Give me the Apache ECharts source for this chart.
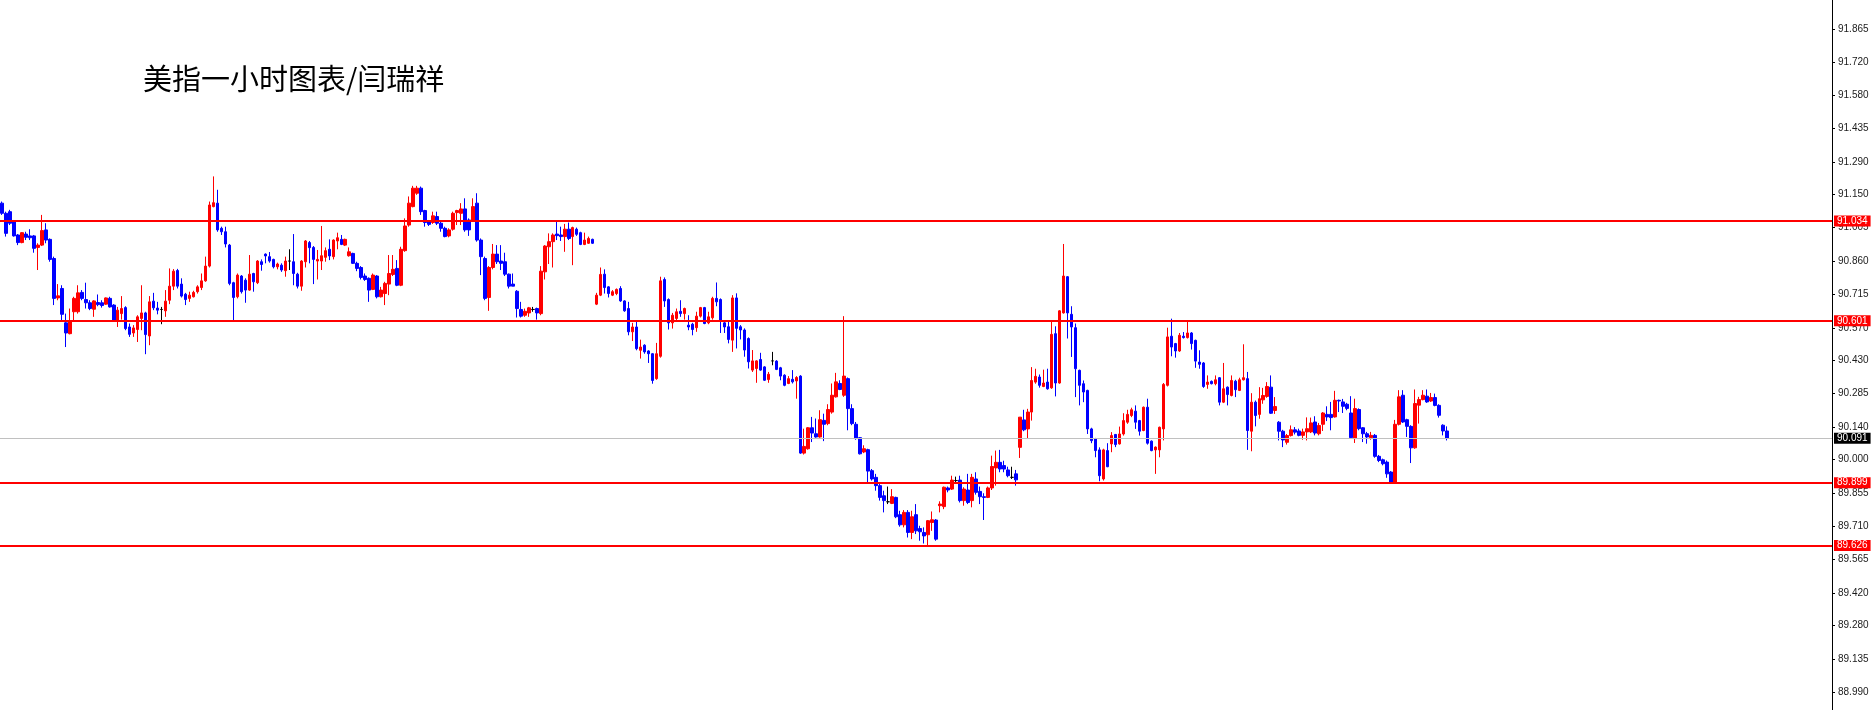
<!DOCTYPE html>
<html>
<head>
<meta charset="utf-8">
<script src="https://cdn.jsdelivr.net/npm/echarts@6/dist/echarts.min.js"></script>
<style>
html,body{margin:0;padding:0;background:#fff;}
#chart{width:1874px;height:710px;}
</style>
</head>
<body>
<div id="chart"></div>
<script>
const titleText = '美指一小时图表/闫瑞祥';

const opens = [91.111,91.067,91.074,91.031,90.973,90.940,90.977,90.969,90.969,90.919,90.929,90.995,90.954,90.871,90.700,90.741,90.592,90.545,90.640,90.640,
90.724,90.693,90.679,90.651,90.680,90.679,90.673,90.698,90.669,90.603,90.632,90.658,90.574,90.548,90.563,90.611,90.635,90.535,90.686,90.656,
90.650,90.644,90.690,90.751,90.819,90.760,90.716,90.698,90.705,90.727,90.745,90.774,90.838,91.096,91.111,91.002,90.987,90.929,90.766,90.705,
90.795,90.777,90.734,90.806,90.766,90.857,90.890,90.879,90.867,90.835,90.842,90.818,90.860,90.857,90.803,90.751,90.857,90.940,90.919,90.860,
90.860,90.876,90.911,90.879,90.947,90.954,90.929,90.883,90.893,90.850,90.832,90.795,90.785,90.737,90.795,90.705,90.719,90.760,90.802,90.828,
90.755,90.905,91.016,91.096,91.154,91.176,91.079,91.034,91.027,91.053,91.024,91.002,90.969,90.998,91.070,91.067,91.086,91.038,91.038,91.111,
90.951,90.871,90.702,90.832,90.890,90.860,90.857,90.803,90.760,90.729,90.650,90.625,90.635,90.650,90.654,90.632,90.813,90.922,90.944,90.977,
90.973,90.966,90.998,90.966,90.998,90.983,90.932,90.937,90.954,90.673,90.712,90.803,90.748,90.712,90.719,90.741,90.687,90.654,90.553,90.574,
90.473,90.495,90.470,90.458,90.350,90.447,90.780,90.693,90.592,90.611,90.642,90.632,90.582,90.586,90.571,90.621,90.658,90.592,90.614,90.698,
90.693,90.592,90.575,90.517,90.700,90.575,90.561,90.524,90.387,90.394,90.433,90.401,90.346,90.427,90.426,90.397,90.365,90.329,90.347,90.340,
90.361,90.027,90.046,90.137,90.111,90.097,90.169,90.155,90.205,90.271,90.329,90.278,90.350,90.220,90.152,90.094,90.032,90.042,89.951,89.922,
89.886,89.842,89.816,89.809,89.835,89.760,89.716,89.770,89.683,89.760,89.700,89.683,89.673,89.726,89.737,89.799,89.795,89.876,89.871,89.908,
89.910,89.821,89.867,89.821,89.915,89.861,89.838,89.835,89.876,89.963,89.987,89.973,89.954,89.922,89.937,90.052,90.171,90.132,90.205,90.335,
90.357,90.316,90.335,90.310,90.545,90.331,90.635,90.792,90.629,90.571,90.386,90.328,90.299,90.132,90.089,90.041,89.915,90.038,90.067,90.108,
90.067,90.110,90.161,90.190,90.209,90.168,90.125,90.226,90.079,90.041,90.041,90.132,90.321,90.534,90.502,90.470,90.534,90.528,90.548,90.516,
90.422,90.418,90.325,90.338,90.328,90.354,90.248,90.313,90.277,90.339,90.299,90.345,90.350,90.122,90.248,90.195,90.258,90.273,90.313,90.212,
90.161,90.122,90.074,90.103,90.128,90.123,90.104,90.119,90.119,90.162,90.111,90.152,90.195,90.195,90.184,90.256,90.249,90.239,90.201,90.090,
90.216,90.137,90.111,90.094,90.104,90.013,89.998,89.988,89.945,89.897,90.152,90.278,90.172,90.143,90.050,90.235,90.259,90.274,90.253,90.268,
90.234,90.148,90.123];

const closes = [91.067,90.980,91.024,90.969,90.940,90.983,90.963,90.961,90.915,90.929,90.992,90.951,90.867,90.698,90.709,90.629,90.548,90.599,90.698,90.722,
90.698,90.679,90.654,90.687,90.671,90.667,90.700,90.661,90.603,90.647,90.654,90.567,90.542,90.570,90.618,90.635,90.541,90.683,90.657,90.647,
90.650,90.686,90.751,90.816,90.751,90.708,90.693,90.712,90.724,90.748,90.774,90.838,91.103,91.113,90.995,90.987,90.934,90.763,90.702,90.799,
90.727,90.734,90.803,90.770,90.860,90.845,90.882,90.860,90.835,90.847,90.821,90.860,90.860,90.806,90.751,90.860,90.947,90.918,90.867,90.867,
90.883,90.905,90.882,90.951,90.961,90.932,90.954,90.900,90.850,90.828,90.789,90.780,90.734,90.799,90.705,90.734,90.763,90.806,90.824,90.755,
90.911,91.012,91.111,91.176,91.176,91.074,91.027,91.019,91.056,91.024,91.002,90.966,90.995,91.067,91.079,91.086,90.995,90.995,91.096,90.951,
90.879,90.698,90.832,90.890,90.857,90.850,90.803,90.751,90.751,90.654,90.621,90.642,90.657,90.650,90.635,90.816,90.925,90.944,90.973,90.970,
90.966,90.998,90.958,91.005,90.976,90.932,90.951,90.958,90.937,90.712,90.802,90.745,90.719,90.727,90.737,90.687,90.644,90.553,90.574,90.480,
90.487,90.466,90.458,90.342,90.458,90.774,90.687,90.592,90.625,90.640,90.632,90.654,90.574,90.563,90.621,90.658,90.589,90.618,90.698,90.683,
90.603,90.574,90.520,90.700,90.568,90.561,90.474,90.423,90.427,90.427,90.387,90.343,90.369,90.427,90.390,90.361,90.321,90.350,90.336,90.355,
90.027,90.056,90.137,90.114,90.097,90.172,90.152,90.216,90.278,90.336,90.303,90.361,90.220,90.155,90.090,90.024,90.046,89.949,89.915,89.886,
89.835,89.821,89.816,89.838,89.751,89.716,89.770,89.683,89.751,89.690,89.686,89.668,89.734,89.738,89.654,89.806,89.879,89.867,89.910,89.908,
89.821,89.871,89.813,89.922,89.857,89.838,89.835,89.876,89.969,89.987,89.958,89.958,89.929,89.922,89.911,90.183,90.128,90.205,90.342,90.360,
90.321,90.331,90.306,90.542,90.331,90.644,90.795,90.635,90.574,90.393,90.321,90.292,90.132,90.081,90.038,89.929,90.041,89.968,90.103,90.064,
90.110,90.168,90.195,90.215,90.161,90.122,90.226,90.070,90.038,90.053,90.139,90.325,90.531,90.487,90.470,90.538,90.528,90.548,90.502,90.426,
90.412,90.316,90.335,90.328,90.345,90.248,90.306,90.281,90.342,90.302,90.345,90.354,90.125,90.248,90.190,90.263,90.277,90.316,90.200,90.229,
90.122,90.084,90.103,90.128,90.118,90.104,90.119,90.133,90.158,90.114,90.147,90.201,90.184,90.181,90.256,90.253,90.230,90.221,90.094,90.220,
90.133,90.111,90.097,90.104,90.013,89.995,89.981,89.937,89.901,90.152,90.271,90.162,90.143,90.050,90.242,90.259,90.278,90.249,90.268,90.234,
90.191,90.123,90.091];

const lows = [91.060,90.966,91.016,90.966,90.929,90.937,90.951,90.951,90.896,90.821,90.925,90.937,90.857,90.669,90.690,90.603,90.487,90.542,90.603,90.632,
90.690,90.654,90.647,90.618,90.664,90.658,90.670,90.658,90.600,90.574,90.606,90.560,90.531,90.531,90.509,90.560,90.456,90.495,90.647,90.629,
90.586,90.618,90.673,90.734,90.741,90.702,90.669,90.683,90.702,90.719,90.734,90.770,90.832,91.093,90.987,90.973,90.919,90.755,90.603,90.698,
90.719,90.679,90.731,90.727,90.760,90.818,90.850,90.853,90.828,90.824,90.813,90.792,90.821,90.755,90.741,90.731,90.832,90.850,90.760,90.780,
90.821,90.857,90.864,90.867,90.911,90.929,90.925,90.879,90.847,90.816,90.780,90.774,90.683,90.734,90.698,90.702,90.669,90.712,90.795,90.751,
90.751,90.900,91.009,91.093,91.147,91.060,91.009,91.012,91.021,91.016,90.987,90.963,90.963,90.992,91.016,91.016,90.987,90.969,91.031,90.944,
90.799,90.690,90.644,90.824,90.847,90.821,90.795,90.741,90.751,90.615,90.615,90.618,90.618,90.640,90.606,90.625,90.780,90.847,90.832,90.951,
90.947,90.900,90.951,90.842,90.969,90.929,90.929,90.934,90.934,90.669,90.708,90.719,90.702,90.708,90.712,90.683,90.640,90.538,90.513,90.473,
90.437,90.458,90.418,90.328,90.345,90.441,90.661,90.563,90.567,90.603,90.618,90.606,90.560,90.538,90.553,90.615,90.586,90.586,90.606,90.664,
90.548,90.548,90.503,90.466,90.481,90.520,90.445,90.394,90.379,90.332,90.384,90.340,90.332,90.408,90.387,90.343,90.317,90.326,90.329,90.263,
90.024,90.021,90.042,90.075,90.094,90.094,90.079,90.148,90.198,90.268,90.300,90.271,90.126,90.148,90.085,90.021,90.027,89.897,89.908,89.864,
89.821,89.770,89.806,89.806,89.745,89.708,89.705,89.661,89.654,89.676,89.647,89.635,89.625,89.690,89.647,89.770,89.784,89.857,89.867,89.893,
89.813,89.799,89.806,89.792,89.847,89.806,89.737,89.832,89.867,89.886,89.944,89.944,89.922,89.915,89.886,90.006,90.122,90.089,90.168,90.328,
90.311,90.313,90.302,90.306,90.273,90.328,90.632,90.524,90.444,90.270,90.234,90.248,90.110,90.070,90.009,89.905,89.908,89.966,90.031,90.053,
90.064,90.103,90.154,90.183,90.132,90.103,90.122,90.064,90.035,89.937,90.009,90.082,90.316,90.447,90.441,90.466,90.524,90.524,90.476,90.397,
90.393,90.310,90.306,90.325,90.321,90.234,90.244,90.234,90.273,90.270,90.296,90.342,90.041,90.035,90.143,90.176,90.241,90.267,90.197,90.197,
90.082,90.053,90.064,90.099,90.108,90.100,90.085,90.082,90.114,90.104,90.104,90.123,90.166,90.126,90.181,90.205,90.201,90.213,90.090,90.071,
90.126,90.075,90.068,90.085,90.007,89.988,89.974,89.920,89.894,89.894,90.147,90.158,90.097,89.984,90.046,90.155,90.256,90.245,90.249,90.230,
90.181,90.104,90.082];

const highs = [91.118,91.074,91.082,91.038,90.977,90.985,90.987,90.998,90.973,90.937,91.060,91.024,90.958,90.879,90.760,90.755,90.632,90.654,90.705,90.755,
90.734,90.766,90.690,90.690,90.715,90.690,90.702,90.705,90.673,90.661,90.708,90.664,90.589,90.582,90.625,90.755,90.640,90.708,90.722,90.683,
90.661,90.734,90.828,90.825,90.826,90.785,90.722,90.727,90.731,90.755,90.806,90.879,91.118,91.227,91.169,91.009,91.009,90.934,90.770,90.806,
90.799,90.785,90.886,90.809,90.864,90.867,90.893,90.899,90.870,90.853,90.850,90.879,90.911,90.977,90.809,90.864,90.951,90.947,90.925,90.908,
91.012,90.919,90.954,90.954,90.983,90.973,90.957,90.919,90.896,90.857,90.838,90.806,90.789,90.806,90.799,90.748,90.770,90.886,90.886,90.864,
90.922,91.045,91.140,91.186,91.186,91.183,91.082,91.038,91.074,91.074,91.031,91.009,91.002,91.074,91.082,91.111,91.132,91.045,91.132,91.154,
90.958,90.879,90.838,90.934,90.929,90.929,90.896,90.806,90.806,90.734,90.683,90.654,90.661,90.661,90.658,90.838,90.929,90.980,90.980,91.031,
91.009,91.021,91.027,91.009,91.005,90.987,90.983,90.966,90.957,90.722,90.832,90.824,90.751,90.734,90.741,90.751,90.690,90.683,90.592,90.596,
90.519,90.499,90.473,90.461,90.505,90.792,90.789,90.698,90.635,90.654,90.690,90.658,90.625,90.592,90.640,90.661,90.661,90.640,90.705,90.767,
90.698,90.603,90.604,90.712,90.720,90.582,90.568,90.529,90.474,90.430,90.462,90.404,90.379,90.466,90.430,90.401,90.369,90.361,90.387,90.361,
90.365,90.133,90.140,90.184,90.177,90.213,90.198,90.239,90.329,90.375,90.343,90.621,90.355,90.239,90.162,90.097,90.061,90.046,89.958,89.937,
89.893,89.864,89.882,89.871,89.838,89.777,89.780,89.780,89.777,89.806,89.712,89.705,89.737,89.774,89.741,89.818,89.882,89.882,89.929,89.925,
89.929,89.879,89.937,89.937,89.944,89.882,89.853,89.882,90.016,90.038,90.041,89.994,89.968,89.968,89.954,90.183,90.215,90.219,90.400,90.393,
90.368,90.389,90.393,90.603,90.577,90.647,90.934,90.795,90.664,90.589,90.389,90.342,90.302,90.137,90.093,90.052,90.046,90.070,90.118,90.110,
90.142,90.200,90.215,90.224,90.234,90.171,90.229,90.263,90.082,90.056,90.142,90.331,90.571,90.610,90.505,90.548,90.552,90.603,90.552,90.519,
90.473,90.422,90.364,90.342,90.364,90.357,90.418,90.316,90.364,90.345,90.354,90.499,90.379,90.287,90.255,90.313,90.310,90.335,90.364,90.270,
90.166,90.128,90.110,90.147,90.140,90.133,90.133,90.182,90.181,90.187,90.158,90.205,90.230,90.249,90.297,90.259,90.262,90.245,90.274,90.263,
90.221,90.140,90.119,90.119,90.110,90.019,90.003,89.995,89.949,90.171,90.300,90.300,90.176,90.148,90.303,90.271,90.300,90.303,90.288,90.285,
90.239,90.152,90.143];

const levelLines = [91.034, 90.601, 89.899, 89.626];
const currentPrice = 90.091;
const yTickValues = [91.865,91.720,91.580,91.435,91.290,91.150,91.005,90.860,90.715,90.570,90.430,90.285,90.140,90.000,89.855,89.710,89.565,89.420,89.280,89.135,88.990];
const slotCount = 459;

const categories = [];
for (let i = 0; i < slotCount; i++) categories.push(i < opens.length ? 'H' + (i + 1) : '');
const kData = opens.map((o, i) => [o, closes[i], lows[i], highs[i]]);

const chart = echarts.init(document.getElementById('chart'), null, {renderer: 'canvas'});
const markData = levelLines.map(v => ({
  yAxis: v,
  lineStyle: {color: '#ff0000', width: 2, type: 'solid'},
  label: {backgroundColor: '#ff0000', color: '#ffffff'}
}));
markData.push({
  yAxis: currentPrice,
  lineStyle: {color: '#c0c0c0', width: 1, type: 'solid'},
  label: {backgroundColor: '#000000', color: '#ffffff'}
});

chart.setOption({
  animation: false,
  backgroundColor: '#ffffff',
  title: {
    text: titleText,
    left: 138,
    top: 59,
    textStyle: {fontFamily: 'Noto Sans CJK SC', fontSize: 29, fontWeight: 'normal', color: '#000000'}
  },
  grid: {left: -1, right: 42, top: 0, bottom: 0, containLabel: false},
  xAxis: {
    type: 'category',
    data: categories,
    boundaryGap: true,
    show: false
  },
  yAxis: {
    type: 'value',
    position: 'right',
    min: 88.913,
    max: 91.992,
    scale: true,
    splitLine: {show: false},
    axisLine: {show: true, lineStyle: {color: '#000000', width: 1}},
    axisTick: {show: true, length: 3, inside: false, customValues: yTickValues, lineStyle: {color: '#000000'}},
    axisLabel: {
      customValues: yTickValues,
      formatter: v => Number(v).toFixed(3),
      fontFamily: 'Liberation Sans',
      fontSize: 10,
      color: '#1a1a1a',
      margin: 6
    }
  },
  series: [{
    type: 'candlestick',
    data: kData,
    barWidth: 3,
    clip: false,
    itemStyle: {
      color: '#ff0000',
      color0: '#0000ff',
      borderColor: '#ff0000',
      borderColor0: '#0000ff',
      borderColorDoji: '#000000',
      borderWidth: 1
    },
    markLine: {
      silent: true,
      symbol: ['none', 'none'],
      precision: 3,
      label: {
        show: true,
        position: 'end',
        distance: 2,
        formatter: p => Number(p.value).toFixed(3),
        fontFamily: 'Liberation Sans',
        fontSize: 10,
        lineHeight: 11,
        padding: [0, 3, 0, 3]
      },
      data: markData
    }
  }]
});
</script>
</body>
</html>
